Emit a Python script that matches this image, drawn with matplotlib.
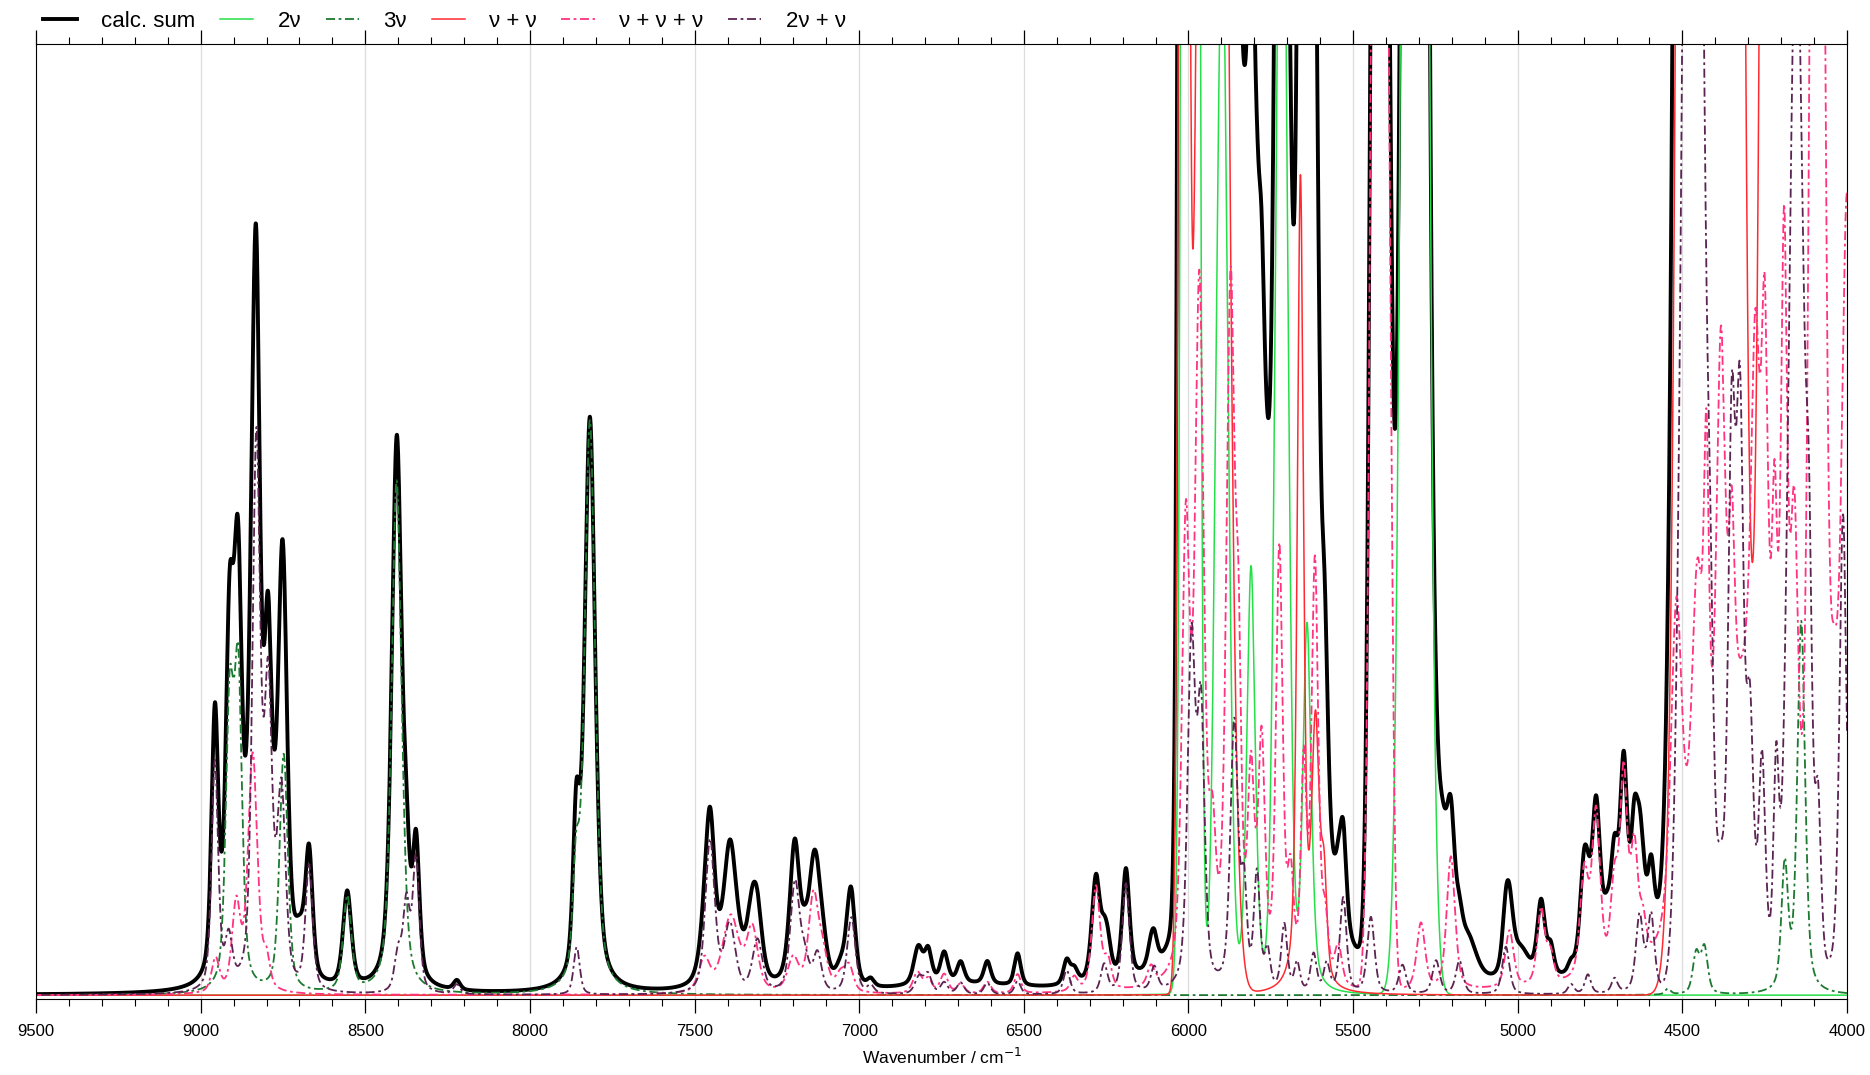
import numpy as np
import matplotlib
matplotlib.use('Agg')
import matplotlib.pyplot as plt

# band lists: position / cm^-1, height (1 = top of frame), FWHM / cm^-1

# 2v overtones
t2_pos = [5994, 5898, 5810, 5717, 5640, 5312]
t2_height = [8.6, 1.1, 0.45, 1.34, 0.39, 4.7]
t2_width = [35, 42, 30, 41, 30, 60]

# 3v overtones
t3_pos = [8912, 8886, 8748, 8555, 8405, 7860, 7818, 4544, 4458, 4433, 4189, 4139]
t3_height = [0.29, 0.32, 0.25, 0.10, 0.54, 0.11, 0.60, 0.006, 0.042, 0.048, 0.13, 0.39]
t3_width = [28, 28, 30, 30, 36, 24, 38, 20, 24, 24, 24, 28]

# v + v combinations
c2_pos = [6014, 5927, 5660, 5614, 5588, 4415, 4130]
c2_height = [3.06, 3.5, 0.85, 0.27, 0.10, 32.0, 92.0]
c2_width = [27, 75, 22, 28, 20, 95.5, 107]

# v + v + v combinations
c3_pos = [8955, 8892, 8842, 8800,
          7470, 7390, 7325, 7200, 7139, 7110, 7056, 7030,
          6823, 6790, 6742, 6692, 6611, 6519,
          6347, 6281, 6245, 6114,
          6008, 5967, 5927, 5872, 5848, 5810, 5778, 5724, 5690, 5650, 5616, 5585, 5545,
          5432, 5398, 5294, 5203, 5025, 4929, 4900, 4798, 4762, 4706, 4678, 4646, 4620,
          4300, 4518, 4455, 4427, 4383, 4350, 4278, 4250, 4220, 4191, 4160, 4090, 4040, 4000]
c3_height = [0.035, 0.09, 0.25, 0.03,
             0.035, 0.08, 0.065, 0.035, 0.10, 0.035, 0.018, 0.025,
             0.022, 0.014, 0.02, 0.01, 0.012, 0.02,
             0.015, 0.11, 0.03, 0.02,
             0.46, 0.72, 0.12, 0.72, 0.26, 0.2, 0.24, 0.45, 0.1, 0.22, 0.44, 0.06, 0.04,
             1.6, 1.1, 0.07, 0.14, 0.06, 0.08, 0.03, 0.11, 0.17, 0.09, 0.20, 0.12, 0.04,
             0.30, 0.34, 0.30, 0.34, 0.45, 0.2, 0.38, 0.40, 0.25, 0.59, 0.35, 2.2, 0.2, 0.8]
c3_width = [28, 30, 34, 24,
            40, 60, 40, 40, 36, 34, 36, 30,
            32, 26, 28, 26, 26, 24,
            26, 30, 26, 26,
            28, 32, 24, 30, 20, 24, 24, 24, 22, 20, 24, 22, 26,
            34, 30, 30, 30, 30, 28, 24, 30, 30, 28, 26, 26, 24,
            250, 40, 40, 18, 30, 20, 30, 22, 18, 22, 28, 42, 30, 40]

# 2v + v combinations
c21_pos = [8957, 8915, 8831, 8795, 8755, 8671,
           8400, 8375, 8346, 8222, 7858,
           7453, 7393, 7309, 7195, 7165, 7127, 7024, 6965,
           6818, 6791, 6742, 6692, 6611, 6519, 6370, 6256, 6190, 6104,
           5991, 5962, 5861, 5831, 5792, 5760, 5709, 5670, 5620, 5580, 5530,
           5446, 5350, 5248, 5177, 5036, 4838, 4787, 4706, 4630, 4595,
           4468, 4415, 4384, 4350, 4325, 4295, 4258, 4215, 4154, 4115, 4088, 4012]
c21_height = [0.24, 0.05, 0.57, 0.30, 0.20, 0.13,
              0.04, 0.09, 0.14, 0.01, 0.05,
              0.16, 0.07, 0.055, 0.115, 0.03, 0.04, 0.08, 0.008,
              0.018, 0.02, 0.012, 0.012, 0.012, 0.014, 0.025, 0.03, 0.115, 0.025,
              0.36, 0.28, 0.28, 0.1, 0.12, 0.04, 0.07, 0.03, 0.04, 0.03, 0.1,
              0.08, 0.03, 0.035, 0.035, 0.05, 0.01, 0.02, 0.015, 0.08, 0.08,
              2.2, 0.22, 0.08, 0.55, 0.55, 0.25, 0.22, 0.22, 1.11, 0.3, 0.18, 0.5]
c21_width = [24, 26, 28, 28, 30, 26,
             26, 24, 24, 24, 22,
             34, 40, 36, 34, 30, 30, 30, 24,
             30, 26, 26, 26, 24, 22, 24, 24, 26, 24,
             28, 26, 28, 20, 22, 20, 22, 20, 22, 22, 24,
             26, 26, 26, 26, 26, 22, 22, 22, 26, 24,
             61, 24, 30, 26, 26, 26, 24, 20, 52, 22, 22, 26]

# further bands that only enter the calculated sum
other_pos = [8770, 8700, 6700, 5840, 5800, 5770, 5650, 5375, 5230, 5150, 4990, 4730]
other_height = [0.03, 0.04, 0.008, 0.25, 0.35, 0.08, 0.45, 0.14, 0.13, 0.04, 0.03, 0.04]
other_width = [30, 40, 400, 40, 120, 40, 90, 40, 40, 60, 60, 30]


def band(x, pos, height, width):
    y = np.zeros_like(x)
    for p, h, w in zip(pos, height, width):
        u = (x - p)/w
        gauss = np.exp(-4*np.log(2)*u**2)
        if h >= 1.0:
            # saturated bands run off the frame, keep their flanks steep
            y += h*gauss
        else:
            y += h*(0.5*gauss + 0.5/(1 + 4*u**2))
    return y


if __name__ == "__main__":
    plt.rcParams['font.family'] = ['Liberation Sans Narrow', 'Liberation Sans', 'DejaVu Sans']
    x = np.arange(4000.0, 9500.5, 0.5)
    y2 = band(x, t2_pos, t2_height, t2_width)
    y3 = band(x, t3_pos, t3_height, t3_width)
    yc2 = band(x, c2_pos, c2_height, c2_width)
    yc3 = band(x, c3_pos, c3_height, c3_width)
    yc21 = band(x, c21_pos, c21_height, c21_width)
    ysum = y2 + y3 + yc2 + yc3 + yc21 + band(x, other_pos, other_height, other_width)

    fig = plt.figure(figsize=(18.7, 10.75), dpi=100)
    ax = fig.add_axes([0.0193, 0.0707, 0.9684, 0.8884])
    dd = (0, (5, 2, 1.5, 2))
    ax.plot(x, ysum, color='black', lw=2.8, label='calc. sum')
    ax.plot(x, y2, color='#25df48', lw=1.1, label='2ν')
    ax.plot(x, y3, color='#1c7a30', lw=1.3, ls=dd, label='3ν')
    ax.plot(x, yc2, color='#ff2a30', lw=1.1, label='ν + ν')
    ax.plot(x, yc3, color='#ff3380', lw=1.3, ls=dd, label='ν + ν + ν')
    ax.plot(x, yc21, color='#5a2352', lw=1.3, ls=dd, label='2ν + ν')

    ax.set_xlim(9500, 4000)
    ax.set_ylim(-0.004, 1.0)
    ax.set_yticks([])
    ax.set_xticks(np.arange(9500, 3999, -500))
    ax.set_xticks(np.arange(9500, 3999, -100), minor=True)
    ax.tick_params(axis='x', which='both', top=True, direction='out', labelsize=12, pad=8)
    ax.tick_params(axis='x', which='major', length=10, width=0.9)
    ax.tick_params(axis='x', which='minor', length=5, width=0.8)
    ax.grid(axis='x', which='major', color='#dddddd', lw=0.9)
    ax.set_axisbelow(True)
    ax.set_xlabel('Wavenumber / cm$^{-1}$', fontsize=12.5, labelpad=6)

    ax.legend(loc='center left', bbox_to_anchor=(0.004, 1.0236), ncol=6, frameon=False,
              fontsize=16, handlelength=1.5, handletextpad=1.1, columnspacing=1.1,
              borderpad=0, borderaxespad=0)
    fig.savefig('out.png', dpi=100)
